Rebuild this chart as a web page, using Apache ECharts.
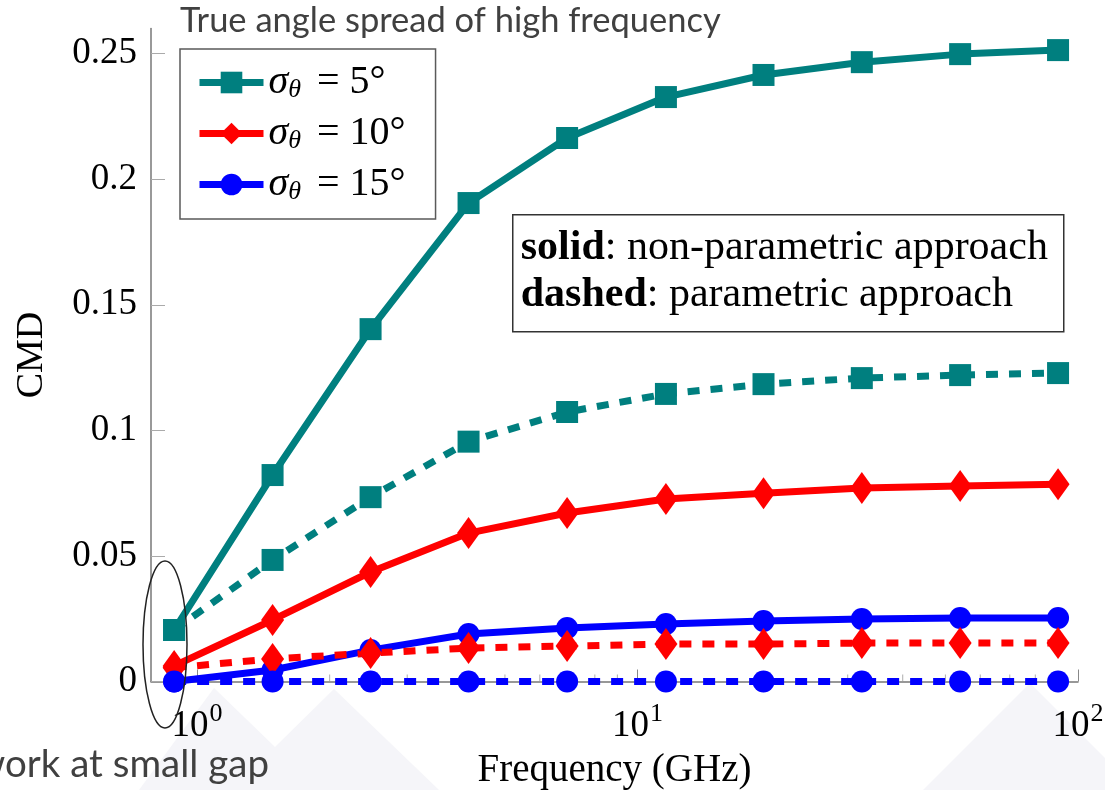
<!DOCTYPE html>
<html>
<head>
<meta charset="utf-8">
<script src="https://cdn.jsdelivr.net/npm/echarts@6.0.0/dist/echarts.min.js"></script>
<style>
  html, body { margin: 0; padding: 0; background: #fff; }
</style>
</head>
<body>
<div id="cmdChart" style="width: 1105px; height: 790px;"></div>
<script>
// frequencies in GHz (log axis)
var freqs = [0.887, 1.484, 2.477, 4.134, 6.92, 11.6, 19.32, 32.3, 54.0, 90.1];
var spreads = [5, 10, 15];

// solid: non-parametric, dashed: parametric
var teal5Solid = [0.0205, 0.0822, 0.1403, 0.1905, 0.2164, 0.2327, 0.2415, 0.2466, 0.2498, 0.2514];
var teal5Dashed = [0.0205, 0.0484, 0.0734, 0.0955, 0.1073, 0.1145, 0.1184, 0.1208, 0.1220, 0.1228];
var red10Solid = [0.0062, 0.0245, 0.0436, 0.0591, 0.0671, 0.0727, 0.0750, 0.0770, 0.0778, 0.0785];
var red10Dashed = [0.0055, 0.0090, 0.0113, 0.0133, 0.0141, 0.0149, 0.0149, 0.0153, 0.0153, 0.0153];
var blue15Solid = [0.0000, 0.0046, 0.0125, 0.0189, 0.0213, 0.0229, 0.0241, 0.0249, 0.0253, 0.0253];
var blue15Dashed = [0, 0, 0, 0, 0, 0, 0, 0, 0, 0];

var yTicks = [0, 0.05, 0.1, 0.15, 0.2, 0.25];
var xMajorTicks = [1, 10, 100];
var xMinorTicks = [2, 3, 4, 5, 6, 7, 8, 9, 20, 30, 40, 50, 60, 70, 80, 90];

var serif = 'Liberation Serif';
var colors = ['#007f7f', '#ff0000', '#0000ff'];
var symbols = ['rect', 'diamond', 'circle'];
var symbolSizes = [22, [23, 32], 22];

function pairs(vals) {
    return freqs.map(function (f, i) { return [f, vals[i]]; });
}

function legendName(i) {
    return 'σθ = ' + spreads[i] + '°';
}

function makeSeries(i, vals, dashed) {
    return {
        name: legendName(i),
        type: 'line',
        data: pairs(vals),
        symbol: symbols[i],
        symbolSize: symbolSizes[i],
        clip: false,
        itemStyle: { color: colors[i] },
        lineStyle: {
            color: colors[i],
            width: 7,
            type: dashed ? [12, 11] : 'solid'
        },
        emphasis: { disabled: true }
    };
}

var myChart = echarts.init(document.getElementById('cmdChart'));

var option = {
    animation: false,
    backgroundColor: '#ffffff',
    grid: {
        left: 151,
        right: 27,
        top: 28.5,
        bottom: 108.5,
        outerBoundsMode: 'none'
    },
    legend: {
        orient: 'vertical',
        left: 180,
        top: 49,
        data: [legendName(0), legendName(1), legendName(2)],
        itemWidth: 64,
        itemHeight: 27,
        itemGap: 10,
        itemTextGap: 13,
        padding: [13, 30, 14, 16],
        borderColor: '#5a5a5a',
        borderWidth: 1.5,
        backgroundColor: '#ffffff',
        selectedMode: false,
        lineStyle: { width: 7 },
        formatter: function (name) {
            var i = [legendName(0), legendName(1), legendName(2)].indexOf(name);
            return '{s|σ}{t|θ}{e|= ' + spreads[i] + '°}';
        },
        textStyle: {
            color: '#000',
            rich: {
                s: { fontFamily: serif, fontStyle: 'italic', fontSize: 40, lineHeight: 36, color: '#000' },
                t: { fontFamily: serif, fontStyle: 'italic', fontSize: 26, lineHeight: 36, padding: [15, 0, 0, 0], color: '#000' },
                e: { fontFamily: serif, fontSize: 40, lineHeight: 36, padding: [0, 0, 0, 16], color: '#000' }
            }
        }
    },
    xAxis: {
        type: 'log',
        logBase: 10,
        min: 0.786,
        max: 100,
        position: 'bottom',
        name: 'Frequency (GHz)',
        nameLocation: 'middle',
        nameGap: 70,
        nameTextStyle: { fontFamily: serif, fontSize: 39, color: '#000' },
        axisLine: { show: true, lineStyle: { color: '#777', width: 1.5 } },
        axisTick: {
            show: true,
            inside: true,
            length: 12,
            customValues: xMajorTicks,
            lineStyle: { color: '#888', width: 1 }
        },
        axisLabel: {
            customValues: xMajorTicks,
            margin: 14,
            formatter: function (v) {
                return '{b|10}{s|' + Math.round(Math.log10(v)) + '}';
            },
            rich: {
                b: { fontFamily: serif, fontSize: 37, color: '#000', padding: [12, 0, 0, 0] },
                s: { fontFamily: serif, fontSize: 26, color: '#000', padding: [0, 0, 12, 1] }
            }
        },
        splitLine: { show: false },
        minorTick: { show: false }
    },
    yAxis: {
        type: 'value',
        min: 0,
        max: 0.26,
        name: 'CMD',
        nameLocation: 'middle',
        nameGap: 100,
        nameRotate: 90,
        nameTextStyle: { fontFamily: serif, fontSize: 38, color: '#000' },
        axisLine: { show: true, lineStyle: { color: '#777', width: 1.5 } },
        axisTick: {
            show: true,
            inside: true,
            length: 14,
            customValues: yTicks,
            lineStyle: { color: '#aaa', width: 1 }
        },
        axisLabel: {
            customValues: yTicks,
            margin: 14,
            fontFamily: serif,
            fontSize: 37,
            color: '#000',
            formatter: function (v) { return String(v); }
        },
        splitLine: { show: false }
    },
    graphic: [
        // faint slide background shapes
        {
            type: 'polygon', z: -10, silent: true,
            shape: { points: [[139, 790], [214, 688], [275, 747], [334, 689], [439, 790]] },
            style: { fill: '#f5f5f9' }
        },
        {
            type: 'polygon', z: -10, silent: true,
            shape: { points: [[923, 790], [1030, 683], [1105, 758], [1105, 790]] },
            style: { fill: '#f5f5f9' }
        },
        {
            type: 'text', left: 180, top: 3,
            style: { text: 'True angle spread of high frequency', fontFamily: 'Lato', fontSize: 34.5, fill: '#404040' }
        },
        {
            type: 'text', left: -25, top: 745,
            style: { text: 'work at small gap', fontFamily: 'Lato', fontSize: 38.5, fill: '#404040' }
        },
        {
            type: 'ellipse', z: 100, silent: true,
            shape: { cx: 165, cy: 644.5, rx: 22, ry: 83.5 },
            style: { fill: 'none', stroke: '#222', lineWidth: 1.5 }
        },
        {
            type: 'group', left: 512, top: 214, z: 50,
            children: [
                {
                    type: 'rect',
                    shape: { x: 0, y: 0, width: 551, height: 117 },
                    style: { fill: '#fff', stroke: '#333', lineWidth: 1.5 }
                },
                {
                    type: 'text', x: 8, y: 33,
                    style: {
                        text: '{b|solid}{n|: non-parametric approach}',
                        verticalAlign: 'middle',
                        rich: {
                            b: { fontFamily: serif, fontSize: 42, fontWeight: 'bold', fill: '#000' },
                            n: { fontFamily: serif, fontSize: 42, fill: '#000' }
                        }
                    }
                },
                {
                    type: 'text', x: 8, y: 80,
                    style: {
                        text: '{b|dashed}{n|: parametric approach}',
                        verticalAlign: 'middle',
                        rich: {
                            b: { fontFamily: serif, fontSize: 42, fontWeight: 'bold', fill: '#000' },
                            n: { fontFamily: serif, fontSize: 42, fill: '#000' }
                        }
                    }
                }
            ]
        }
    ],
    series: [
        {
            // minor log ticks on the x axis
            name: 'minorTicks',
            type: 'scatter',
            silent: true,
            clip: false,
            data: xMinorTicks.map(function (v) { return [v, 0]; }),
            symbol: 'rect',
            symbolSize: [1, 7],
            symbolOffset: [0, -3.5],
            itemStyle: { color: '#999' },
            z: 1
        },
        makeSeries(0, teal5Solid, false),
        makeSeries(1, red10Solid, false),
        makeSeries(2, blue15Solid, false),
        makeSeries(0, teal5Dashed, true),
        makeSeries(1, red10Dashed, true),
        makeSeries(2, blue15Dashed, true)
    ]
};

myChart.setOption(option);
</script>
</body>
</html>
